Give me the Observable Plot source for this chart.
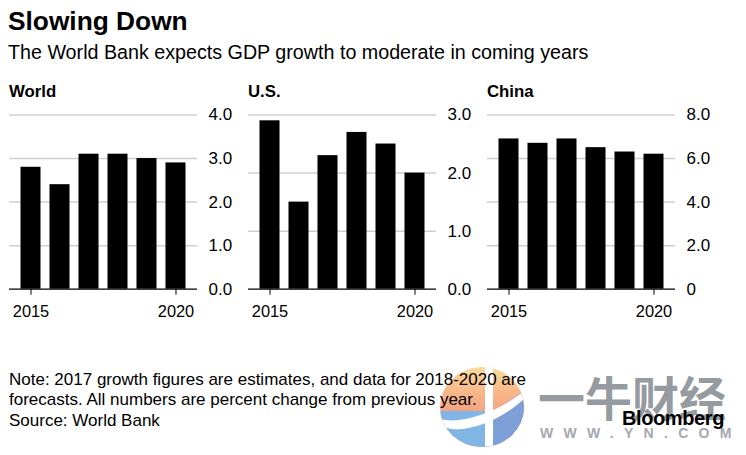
<!DOCTYPE html>
<html>
<head>
<meta charset="utf-8">
<script src="https://cdn.jsdelivr.net/npm/d3@7"></script>
<script src="https://cdn.jsdelivr.net/npm/@observablehq/plot@0.6"></script>
<style>
  html, body { margin: 0; padding: 0; background: #fff; }
  body { width: 746px; height: 455px; position: relative; overflow: hidden; font-family: "Liberation Sans", Arial, sans-serif; color: #000; }
  .abs { position: absolute; white-space: nowrap; }
  #title { left: 8px; top: 5px; font-size: 26.3px; font-weight: 700; line-height: 32px; }
  #subtitle { left: 8px; top: 40px; font-size: 19.7px; line-height: 24px; }
  .panel-title { top: 82px; font-size: 16.8px; font-weight: 700; line-height: 20px; }
  .panel { position: absolute; top: 100px; }
  #note { left: 9px; top: 370px; font-size: 17px; line-height: 20.3px; white-space: pre; }
  #wm-logo { left: 440px; top: 367px; width: 84px; height: 80px; }
  #wm-cn { left: 538px; top: 368px; font-family: "Noto Sans CJK SC", sans-serif; font-size: 47px; line-height: 56px; font-weight: 700; color: #969aa1; }
  #wm-url { left: 540px; top: 424px; font-size: 14px; line-height: 18px; font-weight: 700; color: #a5a8ae; letter-spacing: 10.3px; }
  #bbg { left: 622px; top: 407px; font-size: 20px; line-height: 22px; font-weight: 700; letter-spacing: -0.4px; }
</style>
</head>
<body>
<svg id="wm-logo" class="abs" viewBox="0 0 84 80" aria-hidden="true">
  <defs>
    <linearGradient id="warm" x1="0" y1="0" x2="0" y2="1">
      <stop offset="0" stop-color="#f8dc9c"/>
      <stop offset="0.3" stop-color="#f8b98a"/>
      <stop offset="0.65" stop-color="#f29a80"/>
    </linearGradient>
    <clipPath id="disc"><ellipse cx="42" cy="40" rx="42" ry="40"/></clipPath>
  </defs>
  <g clip-path="url(#disc)">
    <rect width="84" height="80" fill="url(#warm)"/>
    <rect y="44" width="84" height="36" fill="#7fb6e6"/>
    <path d="M46 80V50L84 24V80Z" fill="#7f9fd9"/>
    <path d="M0 52C22 58 60 44 84 24L84 32C60 54 24 68 4 60Z" fill="#fff"/>
    <rect x="45" y="0" width="8" height="80" fill="#fff"/>
  </g>
</svg>
<div id="note" class="abs"></div>
<div id="wm-cn" class="abs">一牛财经</div>
<div id="wm-url" class="abs">WWW.YN.COM</div>
<div id="title" class="abs"></div>
<div id="subtitle" class="abs"></div>
<div id="bbg" class="abs">Bloomberg</div>
<script>
const years = [2015, 2016, 2017, 2018, 2019, 2020];
const labelledYears = [2015, 2020];
const worldValues = [2.8, 2.4, 3.1, 3.1, 3.0, 2.9];
const usValues = [2.9, 1.5, 2.3, 2.7, 2.5, 2.0];
const chinaValues = [6.9, 6.7, 6.9, 6.5, 6.3, 6.2];
const worldTicks = [0, 1, 2, 3, 4];
const usTicks = [0, 1, 2, 3];
const chinaTicks = [0, 2, 4, 6, 8];
const titleText = "Slowing Down";
const subtitleText = "The World Bank expects GDP growth to moderate in coming years";
const noteLines = [
  "Note: 2017 growth figures are estimates, and data for 2018-2020 are",
  "forecasts. All numbers are percent change from previous year.",
  "Source: World Bank"
];

document.getElementById("title").textContent = titleText;
document.getElementById("subtitle").textContent = subtitleText;
document.getElementById("note").textContent = noteLines.join("\n");

function panel(name, left, values, ticks, zeroLabel) {
  const rows = years.map((year, i) => ({year, value: values[i]}));
  const chart = Plot.plot({
    width: 240, height: 250,
    marginLeft: 9, marginRight: 43, marginTop: 14.5, marginBottom: 61.3,
    style: {fontFamily: '"Liberation Sans", Arial, sans-serif', background: "transparent", overflow: "visible"},
    x: {type: "band", domain: years, paddingInner: 0.31, paddingOuter: 0.3965, round: false, label: null},
    y: {domain: [0, ticks[ticks.length - 1]], label: null},
    marks: [
      Plot.ruleY(ticks.slice(1), {y: d => d, stroke: "#cfcfcf", strokeWidth: 1.5}),
      Plot.barY(rows, {x: "year", y: "value", fill: "#000"}),
      Plot.ruleY([0], {stroke: "#000", strokeWidth: 1.2}),
      Plot.axisX({ticks: labelledYears, tickFormat: d => String(d), tickSize: 6, tickPadding: 10, fontSize: 16.4, stroke: "#000", color: "#000", label: null}),
      Plot.axisY({anchor: "right", ticks, tickSize: 0, tickPadding: 11, fontSize: 17, color: "#000", label: null,
        tickFormat: d => d === 0 ? zeroLabel : d.toFixed(1)})
    ]
  });
  chart.classList.add("panel");
  chart.style.left = left + "px";
  document.body.insertBefore(chart, document.getElementById("note"));
  const t = document.createElement("div");
  t.className = "abs panel-title";
  t.style.left = (left + 9) + "px";
  t.textContent = name;
  document.body.appendChild(t);
}

panel("World", 0, worldValues, worldTicks, "0.0");
panel("U.S.", 239, usValues, usTicks, "0.0");
panel("China", 478, chinaValues, chinaTicks, "0");
</script>
</body>
</html>
